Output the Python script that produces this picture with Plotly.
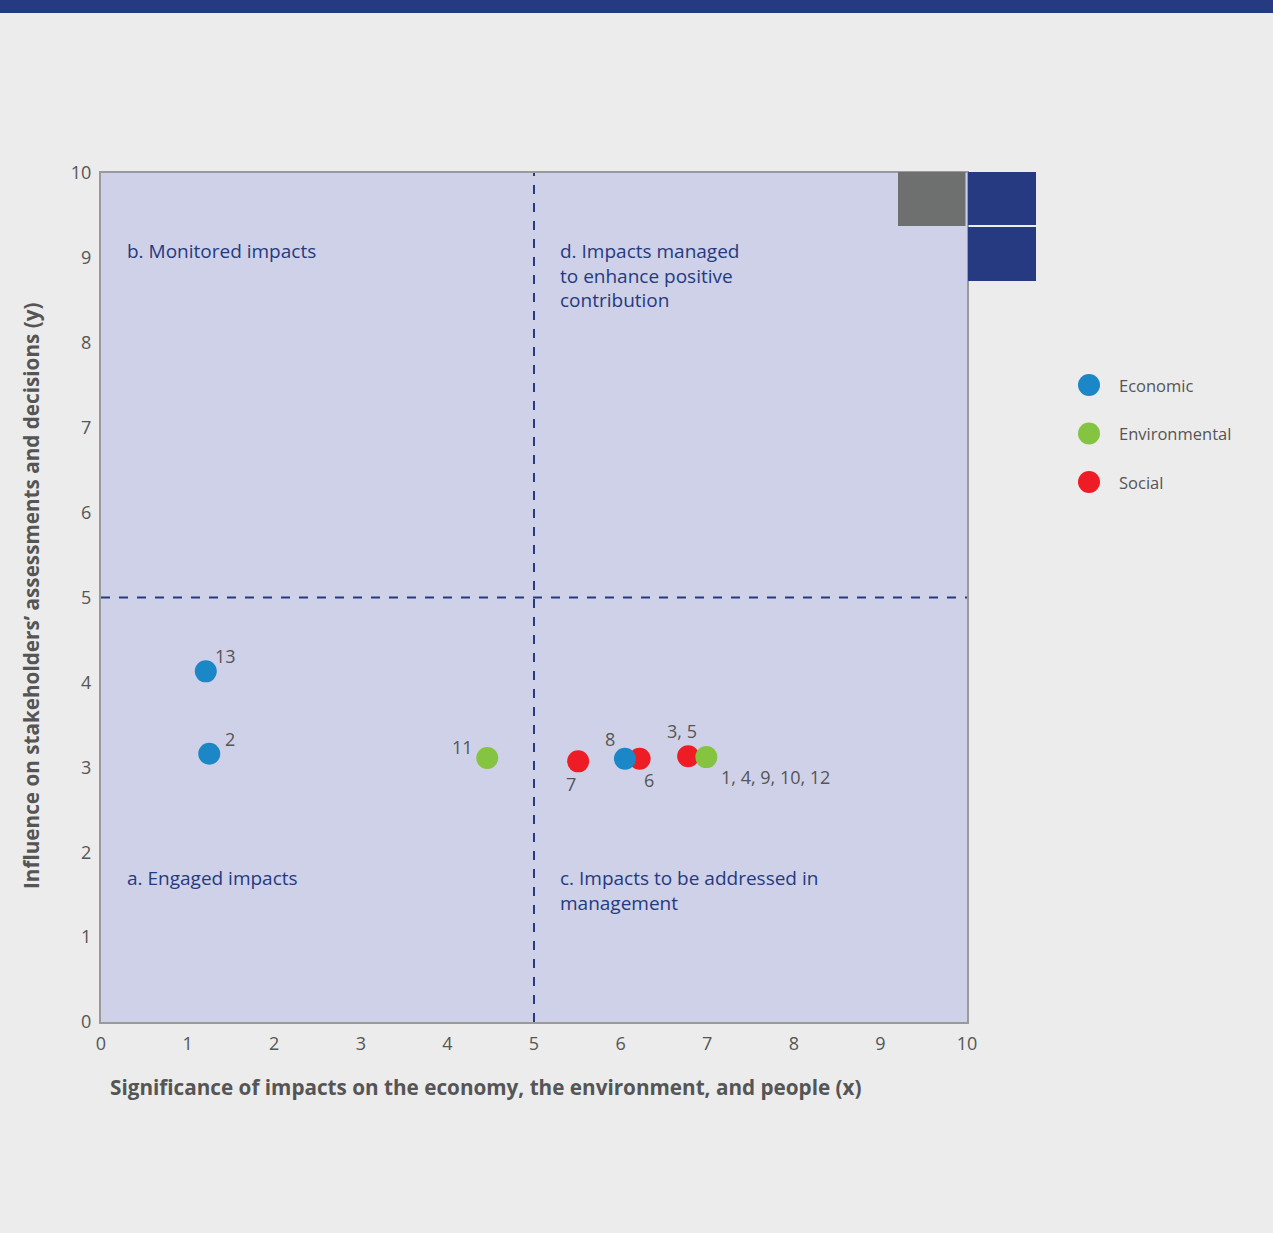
import plotly.graph_objects as go

# ---- data ----
categories = ["Economic", "Environmental", "Social"]
econ_x = [1.21, 1.25, 6.05]
econ_y = [4.13, 3.16, 3.10]
econ_labels = ["13", "2", "8"]
env_x = [4.46, 6.99]
env_y = [3.11, 3.12]
env_labels = ["11", "1, 4, 9, 10, 12"]
soc_x = [5.51, 6.22, 6.78]
soc_y = [3.07, 3.10, 3.13]
soc_labels = ["7", "6", "3, 5"]
tick_vals = [0, 1, 2, 3, 4, 5, 6, 7, 8, 9, 10]
threshold_x = 5
threshold_y = 5
quadrant_texts = [
    "b. Monitored impacts",
    "d. Impacts managed<br>to enhance positive<br>contribution",
    "a. Engaged impacts",
    "c. Impacts to be addressed in<br>management",
]
x_title = "Significance of impacts on the economy, the environment, and people (x)"
y_title = "Influence on stakeholders\u2019 assessments and decisions (y)"

# ---- styles ----
W, H = 1273, 1233
L, R, T, B = 101, 967, 173, 1022
NAVY = "#253a80"
GRAY_TXT = "#555555"
FONT = "Open Sans"
colors = {"Economic": "#1b87c6", "Environmental": "#84c441", "Social": "#ee1c25"}

def px_x(p):
    return (p - L) / (R - L)

def px_y(p):
    return (B - p) / (B - T)

fig = go.Figure()

series = {
    "Economic": (econ_x, econ_y, econ_labels, [(20, 15), (21, 15), (-15, 20)]),
    "Environmental": (env_x, env_y, env_labels, [(-25, 11), (69, -20)]),
    "Social": (soc_x, soc_y, soc_labels, [(-7, -23), (9, -21), (-6, 25)]),
}
draw_order = ["Social", "Economic", "Environmental"]

for name in draw_order:
    xs, ys, labs, offs = series[name]
    fig.add_trace(go.Scatter(
        x=xs, y=ys, mode="markers", name=name, showlegend=False,
        marker=dict(size=22, color=colors[name], line=dict(width=0)),
        hoverinfo="skip",
    ))
    for xv, yv, lab, (dx, dy) in zip(xs, ys, labs, offs):
        fig.add_annotation(x=xv, y=yv, text=lab, showarrow=False,
                           xshift=dx, yshift=dy,
                           font=dict(family=FONT, size=18, color=GRAY_TXT))

# legend (drawn as circles + labels to keep the large swatches)
leg_x, leg_y0, leg_dy, leg_r = 1089, 385, 48.5, 11
for i, name in enumerate(categories):
    cy = leg_y0 + i * leg_dy
    fig.add_shape(type="circle", xref="paper", yref="paper",
                  x0=px_x(leg_x - leg_r), x1=px_x(leg_x + leg_r),
                  y0=px_y(cy + leg_r), y1=px_y(cy - leg_r),
                  fillcolor=colors[name], line=dict(width=0))
    fig.add_annotation(xref="paper", yref="paper", x=px_x(leg_x + 28), y=px_y(cy),
                       xanchor="left", yanchor="middle", text=name, showarrow=False,
                       font=dict(family=FONT, size=16.5, color=GRAY_TXT))

# quadrant dashed lines
fig.add_shape(type="line", x0=threshold_x, x1=threshold_x, y0=0, y1=10,
              xref="x", yref="y", line=dict(color=NAVY, width=2, dash="dash"))
fig.add_shape(type="line", x0=0, x1=10, y0=threshold_y, y1=threshold_y,
              xref="x", yref="y", line=dict(color=NAVY, width=2, dash="dash"))

# quadrant labels
qpos = [(0.28, 9.26), (5.28, 9.26), (0.28, 1.87), (5.28, 1.87)]
for (qx, qy), txt in zip(qpos, quadrant_texts):
    fig.add_annotation(x=qx, y=qy, text=txt, showarrow=False, xanchor="left",
                       yanchor="top", align="left",
                       font=dict(family=FONT, size=19, color=NAVY))

# decorations
fig.add_shape(type="rect", xref="paper", yref="paper",
              x0=px_x(-5), x1=px_x(W + 5), y0=px_y(13), y1=px_y(-5),
              fillcolor=NAVY, line=dict(width=0), layer="above")
fig.add_shape(type="rect", xref="paper", yref="paper",
              x0=px_x(898), x1=px_x(965.5), y0=px_y(226), y1=px_y(172),
              fillcolor="#6e7070", line=dict(width=0), layer="above")
fig.add_shape(type="rect", xref="paper", yref="paper",
              x0=px_x(968), x1=px_x(1036), y0=px_y(225), y1=px_y(172),
              fillcolor=NAVY, line=dict(width=0), layer="above")
fig.add_shape(type="rect", xref="paper", yref="paper",
              x0=px_x(968), x1=px_x(1036), y0=px_y(281), y1=px_y(227),
              fillcolor=NAVY, line=dict(width=0), layer="above")

# axis titles
fig.add_annotation(xref="paper", yref="paper", x=px_x(486), y=px_y(1087),
                   xanchor="center", yanchor="middle",
                   text="<b>" + x_title + "</b>", showarrow=False,
                   font=dict(family=FONT, size=20.7, color=GRAY_TXT))
fig.add_annotation(xref="paper", yref="paper", x=px_x(31), y=px_y(596),
                   xanchor="center", yanchor="middle",
                   text="<b>" + y_title + "</b>", showarrow=False, textangle=-90,
                   font=dict(family=FONT, size=20.7, color=GRAY_TXT))

axis_common = dict(range=[0, 10], tickvals=tick_vals, showgrid=False, zeroline=False,
                   showline=True, linecolor="#9a9a9a", linewidth=2, mirror=True,
                   ticks="outside", ticklen=4, tickcolor="rgba(0,0,0,0)",
                   tickfont=dict(family=FONT, size=18, color=GRAY_TXT), fixedrange=True)
fig.update_xaxes(**axis_common)
fig.update_yaxes(**axis_common)

fig.update_layout(
    width=W, height=H,
    margin=dict(l=L, r=W - R, t=T, b=H - B, autoexpand=False),
    paper_bgcolor="#ececec", plot_bgcolor="#cfd1e8",
    showlegend=False,
)

fig.write_html("out.html")
